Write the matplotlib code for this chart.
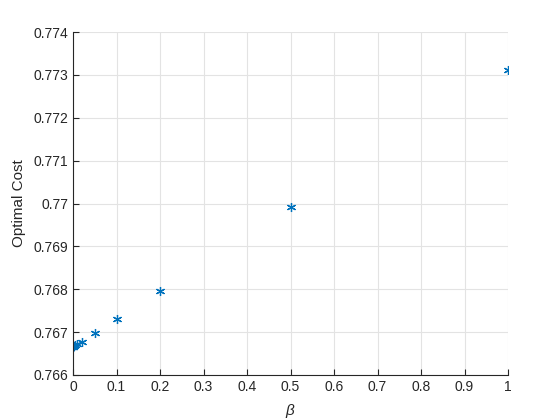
import matplotlib
matplotlib.use("Agg")
import matplotlib.pyplot as plt

plt.rcParams['font.family'] = ['Liberation Sans', 'DejaVu Sans']
plt.rcParams['mathtext.fontset'] = 'custom'
plt.rcParams['mathtext.it'] = 'Liberation Sans:italic'

beta = [0, 0.001, 0.002, 0.005, 0.01, 0.02, 0.05, 0.1, 0.2, 0.5, 1]
cost = [0.76665, 0.76666, 0.76667, 0.76669, 0.76672, 0.76678, 0.76698, 0.7673, 0.76797, 0.76991, 0.77312]
xticks = [0, 0.1, 0.2, 0.3, 0.4, 0.5, 0.6, 0.7, 0.8, 0.9, 1]
xticklabels = ['0', '0.1', '0.2', '0.3', '0.4', '0.5', '0.6', '0.7', '0.8', '0.9', '1']
yticks = [0.766, 0.767, 0.768, 0.769, 0.77, 0.771, 0.772, 0.773, 0.774]
yticklabels = ['0.766', '0.767', '0.768', '0.769', '0.77', '0.771', '0.772', '0.773', '0.774']

fig = plt.figure(figsize=(5.6, 4.2), dpi=100)
ax = fig.add_axes([73/560, 1 - 375/420, (508-73)/560, (375-32)/420])

ax.plot(beta, cost, linestyle='none', marker=(6, 2, 0), markersize=6.5,
        markeredgewidth=0.9, color='#0072BD')

ax.set_xlim(0, 1)
ax.set_ylim(0.766, 0.774)
ax.set_xticks(xticks)
ax.set_xticklabels(xticklabels)
ax.set_yticks(yticks)
ax.set_yticklabels(yticklabels)

ax.grid(True, color='#e3e3e3', linewidth=0.8)
ax.set_axisbelow(True)
for s in ['top', 'right']:
    ax.spines[s].set_visible(False)
for s in ['left', 'bottom']:
    ax.spines[s].set_color('#262626')
    ax.spines[s].set_linewidth(0.8)
ax.tick_params(direction='in', length=4, width=0.8, colors='#262626', labelsize=10)

ax.set_xlabel(r'$\beta$', fontsize=11, color='#262626', labelpad=6)
ax.set_ylabel('Optimal Cost', fontsize=11, color='#262626', labelpad=5)

fig.savefig('out.png', dpi=100)
